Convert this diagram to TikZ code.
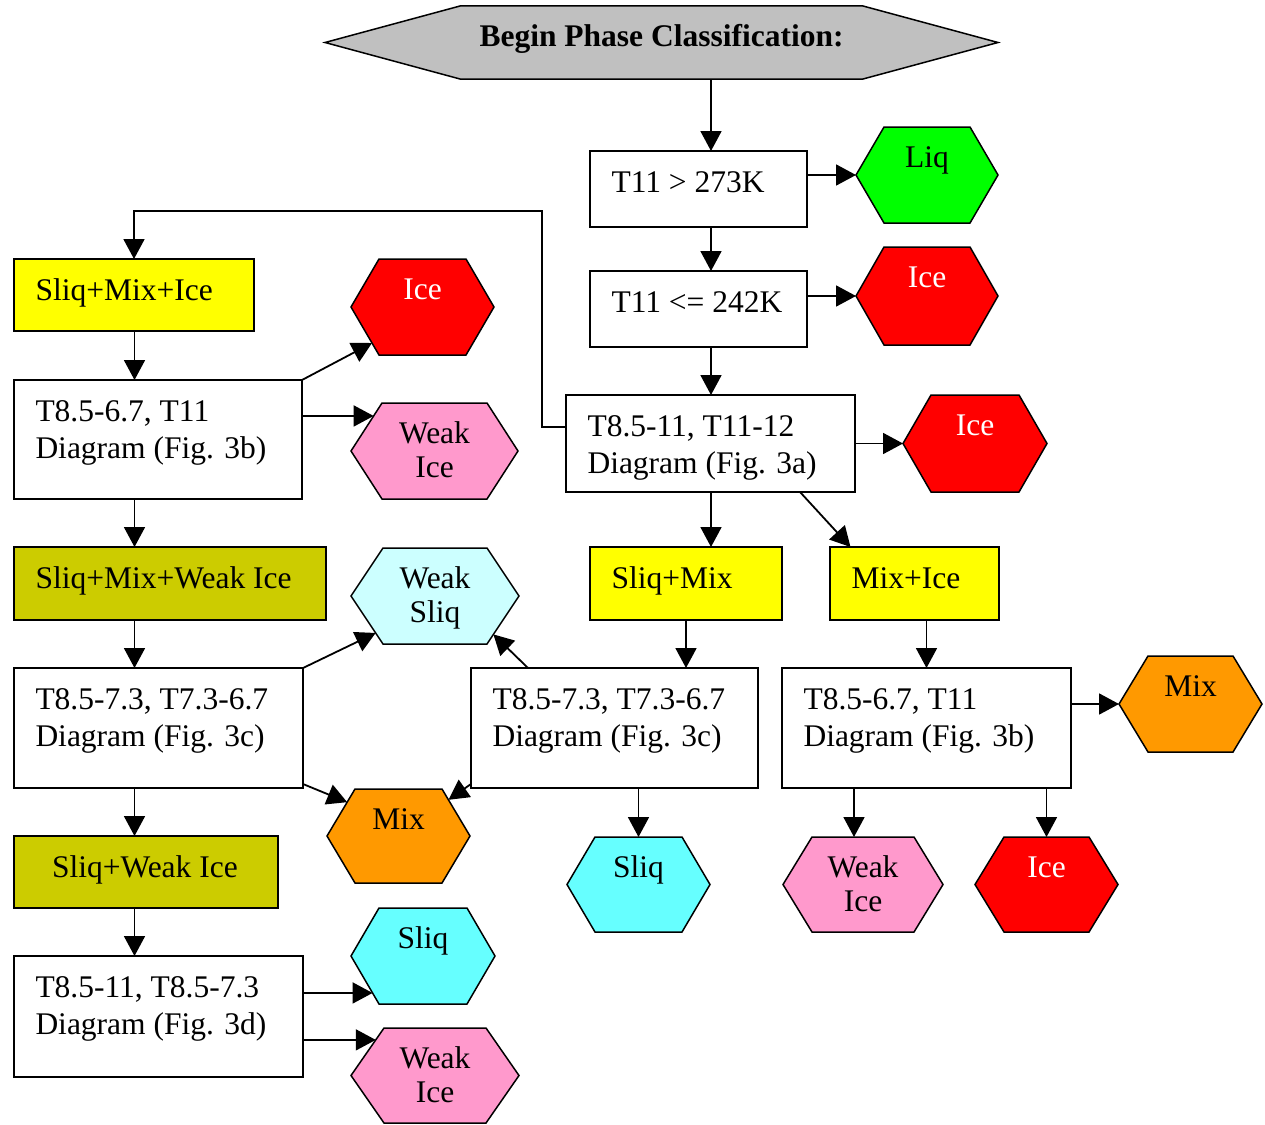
\documentclass[tikz,border=0pt]{standalone}
\usepackage{fontspec}
\setmainfont{Liberation Serif}
\usetikzlibrary{arrows.meta,calc}
\definecolor{liqgreen}{RGB}{0,255,0}
\definecolor{icered}{RGB}{255,0,0}
\definecolor{weakicepink}{RGB}{255,153,204}
\definecolor{weaksliqcyan}{RGB}{204,255,255}
\definecolor{sliqcyan}{RGB}{102,255,255}
\definecolor{mixorange}{RGB}{255,153,0}
\definecolor{boxyellow}{RGB}{255,255,0}
\definecolor{boxolive}{RGB}{204,204,0}
\definecolor{begingray}{RGB}{192,192,192}
% box text: width, height, text (left aligned, first baseline 41 below top)
\newcommand\boxtext[3]{\parbox[c][#2pt][t]{#1pt}{\fontsize{31.5}{37}\selectfont\raggedright\leftskip=21.5pt\rule{0pt}{41pt}#3}}
% hexagon text: width, height, text (centred)
\newcommand\hextext[3]{\parbox[c][#2pt][t]{#1pt}{\fontsize{31.5}{34}\selectfont\centering\rule{0pt}{40.5pt}#3}}
% hexagon: name, left, top, width, height, inset, fill, text options, text
\newcommand\hexa[9]{%
  \draw[hexline, fill=#7] (#2,{#3+#5/2}) -- ({#2+#6},#3) -- ({#2+#4-#6},#3) -- ({#2+#4},{#3+#5/2}) -- ({#2+#4-#6},{#3+#5}) -- ({#2+#6},{#3+#5}) -- cycle;
  \node[hexnode,#8] (#1) at (#2,#3) {\hextext{#4}{#5}{#9}};
  \coordinate (#1-tl) at ({#2+#6},#3);
  \coordinate (#1-tr) at ({#2+#4-#6},#3);
  \coordinate (#1-bl) at ({#2+#6},{#3+#5});
  \coordinate (#1-br) at ({#2+#4-#6},{#3+#5});
}
\tikzset{
  flowbox/.style={draw, line width=1.8pt, inner sep=0pt, outer sep=0pt, anchor=north west},
  plainbox/.style={flowbox, fill=white},
  yellowbox/.style={flowbox, fill=boxyellow},
  olivebox/.style={flowbox, fill=boxolive},
  hexnode/.style={inner sep=0pt, outer sep=0pt, anchor=north west},
  hexline/.style={line width=1.5pt, line join=miter},
  arr/.style={line width=1.8pt, -{Triangle[length=20pt,width=21pt]}},
}
\begin{document}
\begin{tikzpicture}[x=1pt,y=-1pt]
\fill[white] (0,0) rectangle (1265,1124);
\useasboundingbox (0,0) rectangle (1265,1124);

% start
\hexa{Begin}{325}{6}{673}{73}{135}{begingray}{}{\bfseries Begin Phase Classification:}

% boxes
\node[plainbox] (A) at (590,151) {\boxtext{217}{76}{T11 > 273K}};
\node[plainbox] (B) at (590,271) {\boxtext{217}{76}{T11 <= 242K}};
\node[plainbox] (C) at (566,395) {\boxtext{289}{97}{T8.5-11, T11-12\\Diagram (Fig. 3a)}};
\node[yellowbox] (D) at (14,259) {\boxtext{240}{72}{Sliq+Mix+Ice}};
\node[plainbox] (E) at (14,380) {\boxtext{288}{119}{T8.5-6.7, T11\\Diagram (Fig. 3b)}};
\node[olivebox] (F) at (14,547) {\boxtext{312}{73}{Sliq+Mix+Weak Ice}};
\node[plainbox] (G) at (14,668) {\boxtext{289}{120}{T8.5-7.3, T7.3-6.7\\Diagram (Fig. 3c)}};
\node[olivebox] (H) at (14,836) {\boxtext{264}{72}{\hspace*{16.5pt}Sliq+Weak Ice}};
\node[plainbox] (I) at (14,956) {\boxtext{289}{121}{T8.5-11, T8.5-7.3\\Diagram (Fig. 3d)}};
\node[yellowbox] (J) at (590,547) {\boxtext{192}{73}{Sliq+Mix}};
\node[yellowbox] (K) at (830,547) {\boxtext{169}{73}{Mix+Ice}};
\node[plainbox] (L) at (471,668) {\boxtext{287}{120}{T8.5-7.3, T7.3-6.7\\Diagram (Fig. 3c)}};
\node[plainbox] (M) at (782,668) {\boxtext{289}{120}{T8.5-6.7, T11\\Diagram (Fig. 3b)}};

% outcome hexagons
\hexa{Liq}{856}{127}{142}{96}{28}{liqgreen}{}{Liq}
\hexa{IceB}{856}{247}{142}{98}{28}{icered}{text=white}{Ice}
\hexa{IceC}{903}{395}{144}{97}{28}{icered}{text=white}{Ice}
\hexa{IceE}{351}{259}{143}{96}{28}{icered}{text=white}{Ice}
\hexa{WIE}{351}{403}{167}{96}{31}{weakicepink}{}{Weak\\Ice}
\hexa{WS}{351}{548}{168}{96}{32}{weaksliqcyan}{}{Weak\\Sliq}
\hexa{MixG}{327}{789}{143}{94}{28}{mixorange}{}{Mix}
\hexa{SliqL}{567}{837}{143}{95}{28}{sliqcyan}{}{Sliq}
\hexa{MixM}{1119}{656}{143}{96}{29}{mixorange}{}{Mix}
\hexa{WIM}{783}{837}{160}{95}{29}{weakicepink}{}{Weak\\Ice}
\hexa{IceM}{975}{837}{143}{95}{29}{icered}{text=white}{Ice}
\hexa{SliqI}{351}{908}{144}{96}{28}{sliqcyan}{}{Sliq}
\hexa{WII}{351}{1028}{168}{95}{33}{weakicepink}{}{Weak\\Ice}

% helper coordinates
\coordinate (cM) at (711,0);
\coordinate (cL) at (134.5,0);
\coordinate (cW) at (854,0);
\coordinate (tp) at (542,211);
\coordinate (WIEpt) at ($(WIE.west)!0.73!(WIE-tl)$);
\coordinate (SIpt) at ($(SliqI.west)!0.77!(SliqI-bl)$);
\coordinate (WIIpt) at ($(WII.west)!0.75!(WII-tl)$);

% connectors: main column
\draw[arr] (Begin.south -| cM) -- (A.north -| cM);
\draw[arr] (A.south -| cM) -- (B.north -| cM);
\draw[arr] (B.south -| cM) -- (C.north -| cM);
\draw[arr] (C.south -| cM) -- (J.north -| cM);
\draw[arr] (A.east |- Liq.west) -- (Liq.west);
\draw[arr] (B.east |- IceB.west) -- (IceB.west);
\draw[arr] (C.east |- IceC.west) -- (IceC.west);
\draw[arr] ([xshift=89.5pt]C.south) -- ([xshift=-64pt]K.north);
\draw[arr] ([yshift=16.5pt]C.west) -| (tp) -| (D.north);

% left column
\draw[arr] (D.south -| cL) -- (E.north -| cL);
\draw[arr] (E.south -| cL) -- (F.north -| cL);
\draw[arr] (F.south -| cL) -- (G.north -| cL);
\draw[arr] (G.south -| cL) -- (H.north -| cL);
\draw[arr] (H.south -| cL) -- (I.north -| cL);
\draw[arr] (E.north east) -- ($(IceE.west)!0.75!(IceE-bl)$);
\draw[arr] (E.east |- WIEpt) -- (WIEpt);
\draw[arr] (G.north east) -- ($(WS.west)!0.77!(WS-bl)$);
\draw[arr] ([yshift=4pt]G.south east) -- ($(MixG-tl)!0.28!(MixG.west)$);
\draw[arr] (I.east |- SIpt) -- (SIpt);
\draw[arr] (I.east |- WIIpt) -- (WIIpt);

% middle and right
\draw[arr] ([xshift=57pt]L.north west) -- ($(WS.east)!0.8!(WS-br)$);
\draw[arr] ([yshift=4pt]L.south west) -- ($(MixG-tr)!0.23!(MixG.east)$);
\draw[arr] (J.south) -- (J.south |- L.north);
\draw[arr] (M.north |- K.south) -- (M.north);
\draw[arr] (L.south -| SliqL.north) -- (SliqL.north);
\draw[arr] (M.east |- MixM.west) -- (MixM.west);
\draw[arr] (M.south -| cW) -- (WIM.north -| cW);
\draw[arr] (M.south -| IceM.north) -- (IceM.north);
\end{tikzpicture}
\end{document}
